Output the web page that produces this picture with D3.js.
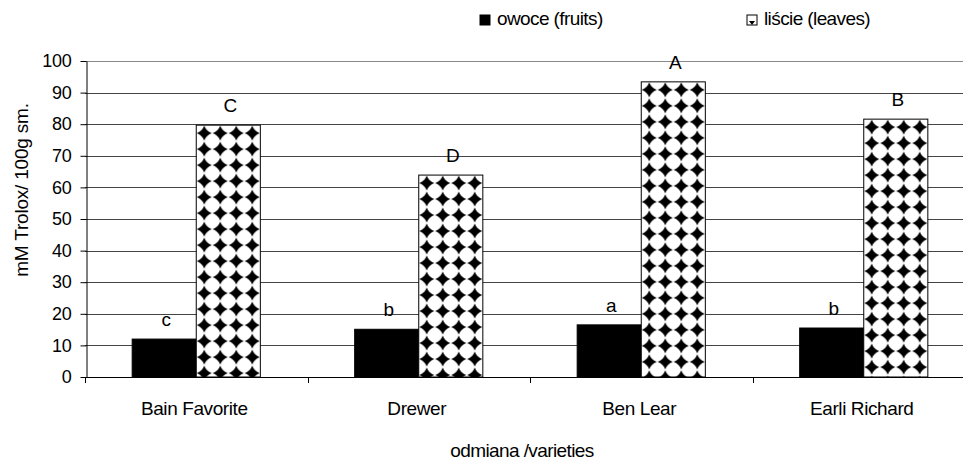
<!DOCTYPE html>
<html>
<head>
<meta charset="utf-8">
<script src="https://cdn.jsdelivr.net/npm/d3@7"></script>
<style>
	body { margin: 0; background: #fff; }
	svg text { font-family: "Liberation Sans", Arial, sans-serif; fill: #000; }
</style>
</head>
<body>
<div id="chart"></div>
<script>

// varieties on the x axis
const varieties = ["Bain Favorite", "Drewer", "Ben Lear", "Earli Richard"];
// series names (legend)
const seriesNames = ["owoce (fruits)", "liście (leaves)"];
// values, mM Trolox / 100g s.m.
const fruits = [12.0, 15.1, 16.5, 15.5];
const leaves = [79.7, 63.9, 93.4, 81.6];
// significance letters
const fruitLetters = ["c", "b", "a", "b"];
const leafLetters = ["C", "D", "A", "B"];
const yTicks = [0, 10, 20, 30, 40, 50, 60, 70, 80, 90, 100];

class BarVis {

	constructor(parentElement) {
		this.parentElement = parentElement;
		this.initVis();
	}

	initVis() {
		let vis = this;

		vis.width = 963;
		vis.height = 461;
		vis.margin = { top: 61, left: 85, bottom: 84 };
		vis.plotRight = 975; // last band runs off the picture

		vis.svg = d3.select("#" + vis.parentElement).append("svg")
			.attr("width", vis.width)
			.attr("height", vis.height);

		// diamond fill for the leaves bars
		let defs = vis.svg.append("defs");
		let pat = defs.append("pattern")
			.attr("id", "diamonds")
			.attr("patternUnits", "userSpaceOnUse")
			.attr("width", 16)
			.attr("height", 16);
		pat.append("rect").attr("width", 16).attr("height", 16).attr("fill", "#fff");
		pat.append("path")
			.attr("d", "M8,0.5 Q10,6 15.5,8 Q10,10 8,15.5 Q6,10 0.5,8 Q6,6 8,0.5Z")
			.attr("fill", "#000");

		let small = defs.append("pattern")
			.attr("id", "diamondsSmall")
			.attr("patternUnits", "userSpaceOnUse")
			.attr("width", 10)
			.attr("height", 10);
		small.append("rect").attr("width", 10).attr("height", 10).attr("fill", "#fff");
		small.append("path").attr("d", "M2,6 L8,6 L5,10Z").attr("fill", "#000");

		vis.y = d3.scaleLinear()
			.domain([0, 100])
			.range([vis.height - vis.margin.bottom, vis.margin.top]);

		vis.x = d3.scaleBand()
			.domain(varieties)
			.range([vis.margin.left, vis.plotRight]);

		vis.xInner = d3.scaleBand()
			.domain(seriesNames)
			.range([vis.x.bandwidth() * 0.212, vis.x.bandwidth() * 0.788]);

		vis.updateVis();
	}

	updateVis() {
		let vis = this;
		let y0 = vis.y(0);
		let font = "19px";

		// horizontal gridlines
		vis.svg.append("g")
			.selectAll("line")
			.data(yTicks.filter(d => d > 0))
			.join("line")
			.attr("x1", vis.margin.left)
			.attr("x2", vis.width)
			.attr("y1", d => Math.round(vis.y(d)) + 0.5)
			.attr("y2", d => Math.round(vis.y(d)) + 0.5)
			.attr("stroke", (d, i) => d === 100 ? "#888" : "#444")
			.attr("stroke-width", 1);

		let rows = varieties.map((v, i) => ({
			variety: v,
			values: [
				{ key: seriesNames[0], value: fruits[i], letter: fruitLetters[i] },
				{ key: seriesNames[1], value: leaves[i], letter: leafLetters[i] }
			]
		}));

		let groups = vis.svg.append("g")
			.selectAll("g")
			.data(rows)
			.join("g")
			.attr("transform", d => `translate(${vis.x(d.variety)},0)`);

		// each bar in its own group so the pattern starts at its top-left corner
		let bars = groups.selectAll("g.bar")
			.data(d => d.values)
			.join("g")
			.attr("class", "bar")
			.attr("transform", d => `translate(${vis.xInner(d.key)},${vis.y(d.value)})`);

		bars.append("rect")
			.attr("x", 0)
			.attr("y", 0)
			.attr("width", vis.xInner.bandwidth())
			.attr("height", d => y0 - vis.y(d.value))
			.attr("fill", (d, i) => i === 0 ? "#000" : "url(#diamonds)")
			.attr("stroke", "#000")
			.attr("stroke-width", 1);

		groups.selectAll("text.letter")
			.data(d => d.values)
			.join("text")
			.attr("class", "letter")
			.attr("x", d => vis.xInner(d.key) + vis.xInner.bandwidth() / 2 + 2)
			.attr("y", d => vis.y(d.value) - 13)
			.attr("text-anchor", "middle")
			.attr("font-size", font)
			.text(d => d.letter);

		// y axis
		let yAxis = d3.axisLeft(vis.y)
			.tickValues(yTicks)
			.tickSize(6)
			.tickSizeOuter(0)
			.tickPadding(9);

		let yG = vis.svg.append("g")
			.attr("transform", `translate(${vis.margin.left + 1.5},0)`)
			.call(yAxis);
		yG.select(".domain").attr("stroke", "#000");
		yG.selectAll(".tick line").attr("stroke", "#000");
		yG.selectAll(".tick text")
			.attr("font-size", "18px")
			.attr("letter-spacing", "-0.3px")
			.attr("font-family", "Liberation Sans, Arial, sans-serif")
			.attr("fill", "#000");

		// x axis line and boundary ticks
		vis.svg.append("line")
			.attr("x1", vis.margin.left)
			.attr("x2", vis.width)
			.attr("y1", Math.round(y0) + 0.5)
			.attr("y2", Math.round(y0) + 0.5)
			.attr("stroke", "#000");

		vis.svg.append("g")
			.selectAll("line")
			.data(varieties)
			.join("line")
			.attr("x1", d => Math.round(vis.x(d)) + 0.5)
			.attr("x2", d => Math.round(vis.x(d)) + 0.5)
			.attr("y1", y0)
			.attr("y2", y0 + 6)
			.attr("stroke", "#000");

		vis.svg.append("g")
			.selectAll("text")
			.data(varieties)
			.join("text")
			.attr("x", d => vis.x(d) + vis.x.bandwidth() / 2 - 2)
			.attr("y", y0 + 38)
			.attr("text-anchor", "middle")
			.attr("font-size", font)
			.attr("letter-spacing", "-0.4px")
			.text(d => d);

		// axis titles
		vis.svg.append("text")
			.attr("x", 522)
			.attr("y", 457)
			.attr("text-anchor", "middle")
			.attr("font-size", font)
			.attr("letter-spacing", "-0.6px")
			.text("odmiana /varieties");

		vis.svg.append("text")
			.attr("transform", "translate(28,190) rotate(-90)")
			.attr("text-anchor", "middle")
			.attr("font-size", font)
			.attr("letter-spacing", "-0.2px")
			.text("mM Trolox/ 100g sm.");

		// legend
		let legend = vis.svg.append("g")
			.selectAll("g")
			.data(seriesNames)
			.join("g")
			.attr("transform", (d, i) => `translate(${i === 0 ? 480 : 747},15)`);

		legend.append("rect")
			.attr("width", 10)
			.attr("height", 10)
			.attr("fill", (d, i) => i === 0 ? "#000" : "url(#diamondsSmall)")
			.attr("stroke", "#000");

		legend.append("text")
			.attr("x", 17)
			.attr("y", 10)
			.attr("font-size", font)
			.attr("letter-spacing", "-0.6px")
			.text(d => d);
	}
}

new BarVis("chart");

</script>
</body>
</html>
